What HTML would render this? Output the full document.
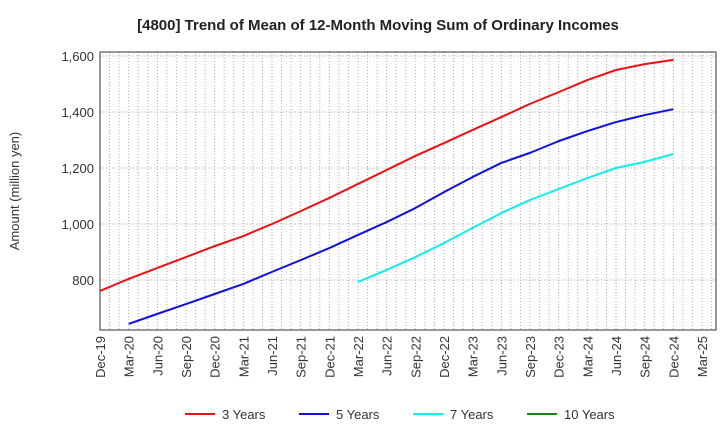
<!DOCTYPE html>
<html><head><meta charset="utf-8"><style>
body{margin:0;background:#fff;font-family:"Liberation Sans",sans-serif}
</style></head><body>
<svg width="720" height="440" xmlns="http://www.w3.org/2000/svg" font-family="Liberation Sans, sans-serif">
<text x="378" y="30" text-anchor="middle" font-size="15" font-weight="bold" fill="#222">[4800]  Trend of Mean of 12-Month Moving Sum of Ordinary Incomes</text>
<text transform="translate(19,191) rotate(-90)" text-anchor="middle" font-size="13" fill="#333">Amount (million yen)</text>
<g id="grid"></g><g id="axes"></g><g id="series"></g><g id="legend"></g>
</svg>
<script>
const xLabels=["Dec-19","Mar-20","Jun-20","Sep-20","Dec-20","Mar-21","Jun-21","Sep-21","Dec-21","Mar-22","Jun-22","Sep-22","Dec-22","Mar-23","Jun-23","Sep-23","Dec-23","Mar-24","Jun-24","Sep-24","Dec-24","Mar-25"];
const yTicks=[800,1000,1200,1400,1600];
const yTickLabels=["800","1,000","1,200","1,400","1,600"];
const seriesNames=["3 Years","5 Years","7 Years","10 Years"];
const red=[761,804,843,882,921,957,1000,1046,1093,1143,1193,1243,1289,1336,1382,1429,1471,1514,1550,1571,1586];
const blue=[null,643,679,714,750,786,829,871,914,961,1007,1057,1114,1168,1218,1254,1296,1332,1364,1389,1410];
const cyan=[null,null,null,null,null,null,null,null,null,793,836,882,932,986,1039,1086,1125,1164,1200,1222,1250];
const green=[];
const NS="http://www.w3.org/2000/svg";
const L=100,R=716,T=52,B=330;
const x=i=>L+i*(602/21);
const y=v=>280-(v-800)*(224/800);
function mk(tag,attrs,parent){const e=document.createElementNS(NS,tag);for(const k in attrs)e.setAttribute(k,attrs[k]);document.getElementById(parent).appendChild(e);return e;}
for(let m=1;m<=65;m++){const xx=L+m*(602/63);if(xx>=R)break;
const g=mk('line',{x1:xx,x2:xx,y1:T,y2:B,stroke:'#aaa','stroke-dasharray':'1,2','stroke-width':1},'grid');

}
yTicks.forEach((v,i)=>{const g=mk('line',{x1:L,x2:R,y1:y(v),y2:y(v),stroke:'#aaa','stroke-dasharray':'1,2'},'grid');


const t=mk('text',{x:L-6,y:y(v)+5,'text-anchor':'end','font-size':13,fill:'#333'},'axes');t.textContent=yTickLabels[i];

});
const fr=mk('rect',{x:L,y:T,width:R-L,height:B-T,fill:'none',stroke:'#333'},'axes');


xLabels.forEach((s,i)=>{const t=mk('text',{transform:`translate(${x(i)+5},${B+6}) rotate(-90)`,'text-anchor':'end','font-size':13,fill:'#333'},'axes');t.textContent=s;

});
function line(data,color,name){let d='';data.forEach((v,i)=>{if(v==null)return;d+=(d?'L':'M')+x(i)+','+y(v);});
if(!d)return;const p=mk('path',{d:d,fill:'none',stroke:color,'stroke-width':2,'stroke-linejoin':'round'},'series');

}
line(red,'#ee1111','line-3-years');line(blue,'#1111dd','line-5-years');line(cyan,'#11eeee','line-7-years');line(green,'#118811','line-10-years');
const cols=['#ee1111','#1111dd','#11eeee','#118811'];const lx=[185,299,413,527];
seriesNames.forEach((n,i)=>{const l=mk('line',{x1:lx[i],x2:lx[i]+30,y1:414,y2:414,stroke:cols[i],'stroke-width':2},'legend');


const t=mk('text',{x:lx[i]+37,y:419,'font-size':13,fill:'#333'},'legend');t.textContent=n;

});
</script>
</body></html>
